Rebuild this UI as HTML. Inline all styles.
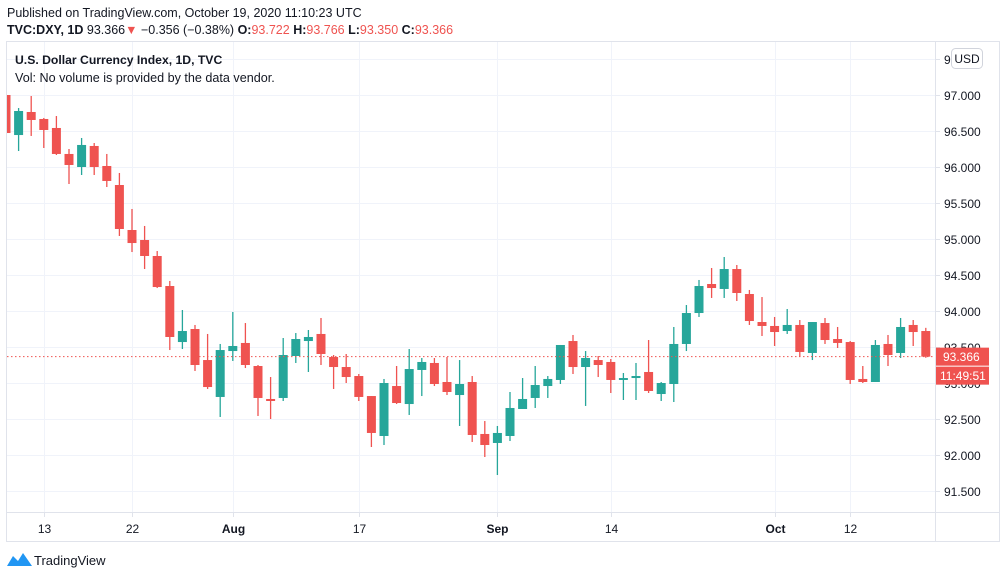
<!DOCTYPE html>
<html><head><meta charset="utf-8">
<style>
body{margin:0;background:#fff;font-family:"Liberation Sans",sans-serif;}
svg{display:block}
</style></head>
<body>
<svg width="1006" height="578" viewBox="0 0 1006 578" id="svg">
<defs><clipPath id="plotclip"><rect x="7" y="42" width="928" height="470"/></clipPath></defs>
<text x="7" y="17" font-size="12.5" fill="#131722">Published on TradingView.com, October 19, 2020 11:10:23 UTC</text>
<text x="7" y="34" font-size="12.5" fill="#131722"><tspan font-weight="bold">TVC:DXY, 1D</tspan> 93.366<tspan fill="#ef5350">▼</tspan> −0.356 (−0.38%) <tspan font-weight="bold">O:</tspan><tspan fill="#ef5350">93.722</tspan> <tspan font-weight="bold">H:</tspan><tspan fill="#ef5350">93.766</tspan> <tspan font-weight="bold">L:</tspan><tspan fill="#ef5350">93.350</tspan> <tspan font-weight="bold">C:</tspan><tspan fill="#ef5350">93.366</tspan></text>
<rect x="6.5" y="41.5" width="993" height="500" fill="none" stroke="#e0e3eb"/>
<g id="grid"></g>
<g id="candles" clip-path="url(#plotclip)"></g>
<line x1="935.5" y1="41" x2="935.5" y2="541" stroke="#e0e3eb"/>
<line x1="6" y1="512.5" x2="999" y2="512.5" stroke="#e0e3eb"/>
<g id="yaxis"></g>
<g id="xaxis"></g>
<text x="15" y="64" font-size="12.2" font-weight="bold" fill="#131722">U.S. Dollar Currency Index, 1D, TVC</text>
<text x="15" y="82" font-size="12.6" fill="#131722">Vol: No volume is provided by the data vendor.</text>
<rect x="951.5" y="48.5" width="31" height="20" rx="4" fill="#fff" stroke="#d1d4dc"/>
<text x="967" y="63" font-size="12" fill="#131722" text-anchor="middle">USD</text>
<g>
<path d="M7 566 L13 556 L18 561 L23 553 L32 566 Z" fill="#2196f3"/>
<text x="34" y="565" font-size="13" fill="#131722">TradingView</text>
</g>
</svg>
<script>
const opens=[97.000,96.444,96.764,96.667,96.542,96.181,96.000,96.292,96.014,95.750,95.125,94.986,94.764,94.347,93.569,93.750,93.319,92.806,93.444,93.556,93.236,92.778,92.792,93.375,93.583,93.681,93.361,93.222,93.097,92.819,92.264,92.958,92.708,93.181,93.278,93.014,92.833,93.014,92.292,92.167,92.264,92.639,92.792,92.958,93.042,93.583,93.222,93.319,93.292,93.042,93.069,93.153,92.847,92.986,93.542,93.972,94.375,94.306,94.583,94.236,93.847,93.792,93.722,93.806,93.417,93.833,93.611,93.569,93.056,93.014,93.542,93.417,93.806,93.722];
const highs=[97.069,96.819,96.986,96.681,96.708,96.250,96.403,96.333,96.181,95.917,95.417,95.181,94.833,94.417,94.014,93.806,93.681,93.542,93.986,93.833,93.250,93.083,93.625,93.694,93.736,93.903,93.389,93.403,93.125,92.819,93.056,93.236,93.472,93.347,93.347,93.361,93.319,93.097,92.472,92.403,92.875,93.069,93.236,93.097,93.528,93.667,93.444,93.375,93.333,93.139,93.278,93.597,93.014,93.778,94.083,94.431,94.597,94.750,94.639,94.292,94.194,93.917,94.028,93.875,93.847,93.903,93.778,93.583,93.236,93.597,93.667,93.903,93.875,93.766];
const lows=[96.472,96.222,96.431,96.264,96.167,95.764,95.889,95.889,95.722,95.042,94.819,94.583,94.319,93.458,93.472,93.167,92.917,92.528,93.306,93.208,92.542,92.500,92.750,93.278,93.153,93.250,92.917,93.000,92.750,92.111,92.139,92.708,92.556,92.819,92.958,92.833,92.403,92.181,91.972,91.722,92.194,92.639,92.653,92.792,92.986,93.125,92.681,93.083,92.861,92.764,92.764,92.861,92.750,92.736,93.444,93.917,94.181,94.181,94.139,93.806,93.653,93.514,93.681,93.361,93.319,93.542,93.486,92.986,93.000,93.014,93.236,93.347,93.514,93.350];
const closes=[96.472,96.778,96.653,96.514,96.181,96.028,96.306,96.000,95.806,95.139,94.944,94.764,94.333,93.639,93.722,93.250,92.944,93.458,93.514,93.250,92.792,92.750,93.389,93.611,93.639,93.403,93.222,93.083,92.806,92.306,93.000,92.722,93.194,93.292,92.986,92.875,92.986,92.278,92.139,92.306,92.653,92.778,92.972,93.056,93.528,93.222,93.347,93.250,93.042,93.069,93.097,92.889,93.000,93.542,93.972,94.347,94.319,94.583,94.250,93.861,93.792,93.708,93.806,93.431,93.847,93.597,93.556,93.042,93.014,93.528,93.389,93.778,93.708,93.366];
const priceTicks=[91.5,92.0,92.5,93.0,93.5,94.0,94.5,95.0,95.5,96.0,96.5,97.0,97.5];
const dateLabels=["13","22","Aug","17","Sep","14","Oct","12"];
const dateIndex=[3,10,18,28,39,48,61,67];
const dateBold=[false,false,true,false,true,false,true,false];
const lastPrice=93.366;

const NS="http://www.w3.org/2000/svg";
const yOf=p=>95+(97-p)*72;
const xOf=i=>6+i*12.6;
function mk(tag,attrs,parent){const e=document.createElementNS(NS,tag);for(const k in attrs)e.setAttribute(k,attrs[k]);parent.appendChild(e);return e;}
const grid=document.getElementById('grid'),yax=document.getElementById('yaxis'),xax=document.getElementById('xaxis'),cg=document.getElementById('candles');
priceTicks.forEach(p=>{
  const y=Math.round(yOf(p))+0.5;
  const l=mk('line',{x1:7,x2:935,y1:y,y2:y,stroke:'#f0f3fa'},grid);
  
  
  mk('line',{x1:935,x2:940,y1:y,y2:y,stroke:'#e0e3eb'},yax);
  const t=mk('text',{x:944,y:y+4.5,'font-size':12,fill:'#131722'},yax);
  t.textContent=p.toFixed(3);
  
  
});
dateLabels.forEach((s,k)=>{
  const x=Math.round(xOf(dateIndex[k]))+0.5;
  const l=mk('line',{x1:x,x2:x,y1:42,y2:512,stroke:'#f0f3fa'},grid);
  
  
  mk('line',{x1:x,x2:x,y1:512,y2:517,stroke:'#e0e3eb'},xax);
  const t=mk('text',{x:x,y:533,'font-size':12,fill:'#131722','text-anchor':'middle','font-weight':dateBold[k]?'bold':'normal'},xax);
  t.textContent=s;
  
  
});
opens.forEach((o,i)=>{
  const c=closes[i],up=c>=o,col=up?'#26a69a':'#ef5350',x=xOf(i);
  const g=mk('g',{},cg);
  
  
  mk('line',{x1:x,x2:x,y1:yOf(highs[i]),y2:yOf(lows[i]),stroke:col,'stroke-width':1.3},g);
  const top=yOf(Math.max(o,c)),bot=yOf(Math.min(o,c));
  mk('rect',{x:x-4.5,y:top,width:9,height:Math.max(1.5,bot-top),fill:col},g);
});
const ly=yOf(lastPrice);
const pl=mk('line',{x1:7,x2:935,y1:ly,y2:ly,stroke:'#ef5350','stroke-dasharray':'1.5 2.5'},cg);


const svg=document.getElementById('svg');
const b1=mk('rect',{x:936,y:ly-9,width:53,height:18,fill:'#ef5350'},svg);


const t1=mk('text',{x:943,y:ly+4.5,'font-size':12,fill:'#fff'},svg);t1.textContent=lastPrice.toFixed(3);


const b2=mk('rect',{x:936,y:ly+10,width:53,height:18,fill:'#ef5350'},svg);


const t2=mk('text',{x:940,y:ly+23.5,'font-size':12,fill:'#fff'},svg);t2.textContent='11:49:51';


</script>
</body></html>
